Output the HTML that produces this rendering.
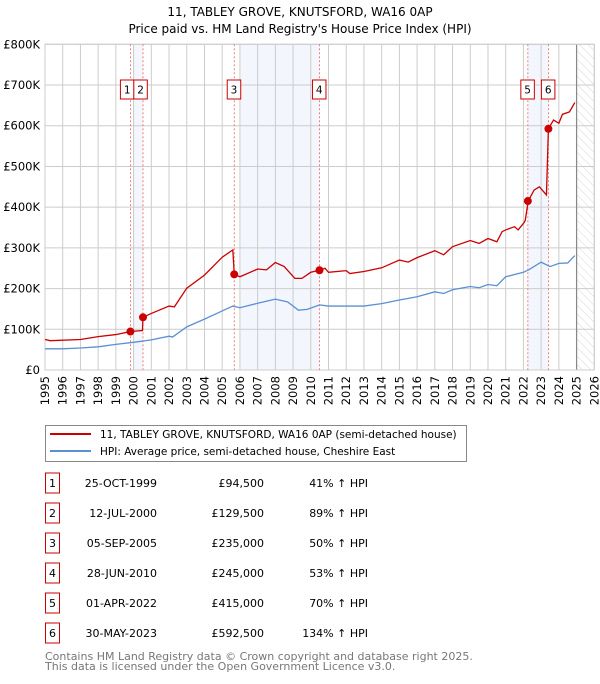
<!DOCTYPE html>
<html><head><meta charset="utf-8"><style>
body{margin:0;background:#fff;font-family:"DejaVu Sans","Liberation Sans",sans-serif;}
svg text{font-family:"DejaVu Sans","Liberation Sans",sans-serif;}
</style></head><body>
<svg id="c" width="600" height="680" viewBox="0 0 600 680" xmlns="http://www.w3.org/2000/svg">
<defs><pattern id="hatch" width="6" height="6" patternUnits="userSpaceOnUse" patternTransform="rotate(-45)"><line x1="0" y1="0" x2="0" y2="6" stroke="#ccc" stroke-width="0.8"/></pattern></defs>
<text x="300" y="16" text-anchor="middle" font-size="12" fill="#000">11, TABLEY GROVE, KNUTSFORD, WA16 0AP</text>
<text x="300" y="33" text-anchor="middle" font-size="12" fill="#000">Price paid vs. HM Land Registry's House Price Index (HPI)</text>
<g id="plot"></g>
<g>
<rect x="45.5" y="425.5" width="421" height="36" fill="#fff" stroke="#888"/>
<line x1="50" y1="434" x2="91" y2="434" stroke="#cc0000" stroke-width="2"/>
<text x="100" y="438" font-size="10.5">11, TABLEY GROVE, KNUTSFORD, WA16 0AP (semi-detached house)</text>
<line x1="50" y1="451" x2="91" y2="451" stroke="#5b8fd4" stroke-width="2"/>
<text x="100" y="455" font-size="10.5">HPI: Average price, semi-detached house, Cheshire East</text>
</g>
<g id="table"></g>
<text x="45" y="660" font-size="11" fill="#777">Contains HM Land Registry data © Crown copyright and database right 2025.</text>
<text x="45" y="670" font-size="11" fill="#777">This data is licensed under the Open Government Licence v3.0.</text>
</svg>
<script>
const hpiYears=[1995,1996,1997,1998,1999,2000,2001,2002,2002.2,2003,2004,2005,2005.6,2006,2007,2008,2008.7,2009.3,2009.8,2010.5,2011,2012,2013,2014,2015,2016,2017,2017.5,2018,2019,2019.5,2020,2020.5,2021,2022,2022.3,2023,2023.5,2024,2024.5,2024.9];
const hpiValues=[52,52,54,57,63,68,74,83,81,106,125,145,157,153,164,174,167,147,149,160,157,157,157,163,172,180,192,188,197,205,202,210,207,229,240,246,265,254,262,263,281];
const redYears=[1995,1995.3,1997,1998,1999,1999.82,2000.5,2000.53,2001,2002,2002.3,2003,2004,2005,2005.6,2005.68,2006,2007,2007.5,2008,2008.5,2009.1,2009.5,2010,2010.49,2010.8,2011,2012,2012.2,2013,2014,2015,2015.5,2016,2017,2017.5,2018,2019,2019.5,2020,2020.5,2020.8,2021,2021.5,2021.7,2022,2022.1,2022.27,2022.6,2022.9,2023.3,2023.41,2023.7,2024,2024.2,2024.6,2024.9];
const redValues=[75,72,75,82,87,94.5,97,129.5,139,157,155,201,233,277,295,235,229,248,246,264,254,225,225,240,245,250,240,244,237,242,251,270,265,276,293,283,303,318,311,323,315,340,344,352,344,360,367,415,442,450,430,592.5,614,606,628,634,657];
const saleLabels=["1","2","3","4","5","6"];
const saleYears=[1999.82,2000.53,2005.68,2010.49,2022.25,2023.41];
const salePrices=[94.5,129.5,235,245,415,592.5];
const saleDates=["25-OCT-1999","12-JUL-2000","05-SEP-2005","28-JUN-2010","01-APR-2022","30-MAY-2023"];
const salePriceText=["£94,500","£129,500","£235,000","£245,000","£415,000","£592,500"];
const salePct=["41% ↑ HPI","89% ↑ HPI","50% ↑ HPI","53% ↑ HPI","70% ↑ HPI","134% ↑ HPI"];
const yTicks=[0,100,200,300,400,500,600,700,800];
const yTickLabels=["£0","£100K","£200K","£300K","£400K","£500K","£600K","£700K","£800K"];
const xTicks=[1995,1996,1997,1998,1999,2000,2001,2002,2003,2004,2005,2006,2007,2008,2009,2010,2011,2012,2013,2014,2015,2016,2017,2018,2019,2020,2021,2022,2023,2024,2025,2026];
const shadeStarts=[2000,2006,2022.25];
const shadeEnds=[2000.53,2010.49,2023.41];

const X0=45,X1=594.3,Y0=370,Y1=44.3;
const xs=y=>X0+(y-1995)/31*(X1-X0);
const ys=v=>Y0-v/800*(Y0-Y1);
const NS="http://www.w3.org/2000/svg";
const plot=document.getElementById('plot');
function mk(tag,attrs,parent){const e=document.createElementNS(NS,tag);for(const k in attrs)e.setAttribute(k,attrs[k]);(parent||plot).appendChild(e);return e;}
mk('rect',{x:X0,y:Y1,width:X1-X0,height:Y0-Y1,fill:'#fff'});
for(let i=0;i<shadeStarts.length;i++){const r=mk('rect',{x:xs(shadeStarts[i]),y:Y1,width:xs(shadeEnds[i])-xs(shadeStarts[i]),height:Y0-Y1,fill:'#f3f6fd'});

}
const hr=mk('rect',{x:xs(2025),y:Y1,width:X1-xs(2025),height:Y0-Y1,fill:'url(#hatch)'});


xTicks.forEach(t=>{mk('line',{x1:xs(t),x2:xs(t),y1:Y1,y2:Y0,stroke:'#ccc','stroke-width':1});
const tx=mk('text',{x:0,y:0,'font-size':11.5,'text-anchor':'end',transform:`translate(${xs(t)+4},${Y0+6}) rotate(-90)`});tx.textContent=t;

});
yTicks.forEach((t,i)=>{mk('line',{x1:X0,x2:X1,y1:ys(t),y2:ys(t),stroke:'#ccc','stroke-width':1});
const tx=mk('text',{x:40,y:ys(t)+4,'font-size':11.5,'text-anchor':'end'});tx.textContent=yTickLabels[i];

});
mk('line',{x1:xs(2025),x2:xs(2025),y1:Y1,y2:Y0,stroke:'#888','stroke-width':1.2});
mk('rect',{x:X0,y:Y1,width:X1-X0,height:Y0-Y1,fill:'none',stroke:'#ccc'});
saleYears.forEach((y,i)=>{const l=mk('line',{x1:xs(y),x2:xs(y),y1:Y1,y2:Y0,stroke:'#f06060','stroke-width':0.8,'stroke-dasharray':'2,2'});

});
const hp=mk('polyline',{points:hpiYears.map((y,i)=>xs(y)+','+ys(hpiValues[i])).join(' '),fill:'none',stroke:'#5b8fd4','stroke-width':1.3});


const rp=mk('polyline',{points:redYears.map((y,i)=>xs(y)+','+ys(redValues[i])).join(' '),fill:'none',stroke:'#cc0000','stroke-width':1.3});


saleYears.forEach((y,i)=>{const c=mk('circle',{cx:xs(y),cy:ys(salePrices[i]),r:4,fill:'#cc0000'});


const s1=xs(saleYears[0]);
const bx=(i==0)?s1-10:(i==1)?s1+3.4:xs(y)-7;
const b=mk('rect',{x:bx,y:80,width:13.5,height:19,fill:'#fff',stroke:'#cc0000'});


const t=mk('text',{x:bx+6.75,y:93.5,'font-size':10.5,'text-anchor':'middle'});t.textContent=saleLabels[i];

});
const tb=document.getElementById('table');
saleLabels.forEach((s,i)=>{const cy=483+i*30;
mk('rect',{x:45.5,y:cy-10,width:14,height:20,fill:'#fff',stroke:'#cc0000'},tb);
const a=mk('text',{x:52.5,y:cy+4,'font-size':11,'text-anchor':'middle'},tb);a.textContent=s;


const d=mk('text',{x:157,y:cy+4,'font-size':11,'text-anchor':'end'},tb);d.textContent=saleDates[i];


const p=mk('text',{x:264,y:cy+4,'font-size':11,'text-anchor':'end'},tb);p.textContent=salePriceText[i];


const q=mk('text',{x:368,y:cy+4,'font-size':11,'text-anchor':'end'},tb);q.textContent=salePct[i];

});
</script>
</body></html>
